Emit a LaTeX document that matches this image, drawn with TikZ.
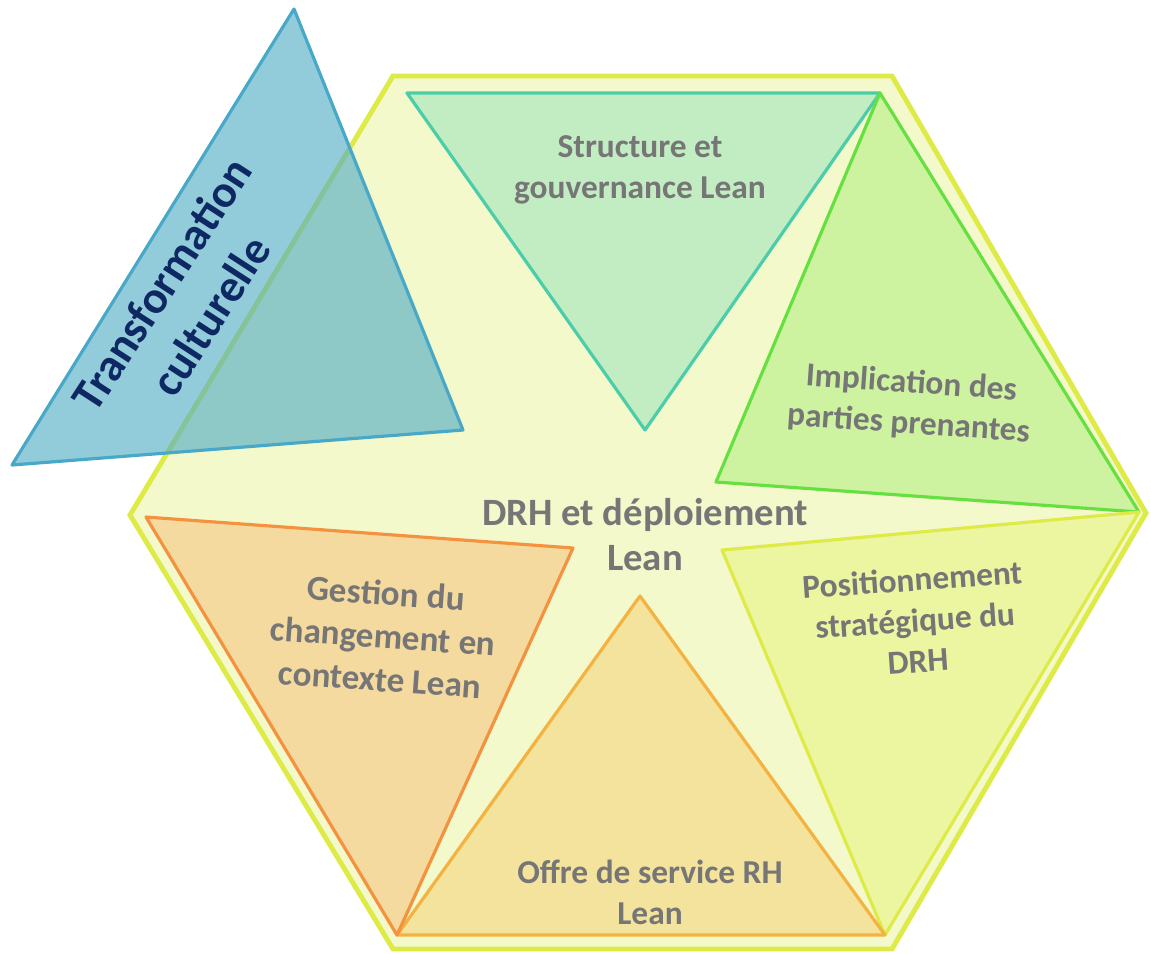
\documentclass[tikz,border=0pt]{standalone}
\usepackage{fontspec}
\setmainfont{Carlito}
\usepackage{xcolor}
\usepackage{tikz}
\usetikzlibrary{positioning,calc}
\definecolor{HexLine}{RGB}{222,235,70}
\definecolor{HexFill}{RGB}{243,249,203}
\definecolor{LabelGray}{RGB}{118,118,118}
\definecolor{NavyText}{RGB}{14,40,99}
\tikzset{
    facet/.style={line width=0.9pt, line join=round},
    facetlabel/.style={text=LabelGray, font=\bfseries\fontsize{9.5}{11.6}\selectfont, align=center, inner sep=0pt}
}

\begin{document}
\begin{tikzpicture}[x=0.01cm, y=-0.01cm,
                hexagon/.style={draw=HexLine, fill=HexFill, line width=1.4pt, line join=miter},
                structure/.style={facet, draw={rgb,255:red,74;green,205;blue,168}, fill={rgb,255:red,194;green,236;blue,194}},
                implication/.style={facet, draw={rgb,255:red,102;green,224;blue,64}, fill={rgb,255:red,205;green,242;blue,160}},
                position/.style={facet, draw=HexLine, fill={rgb,255:red,236;green,245;blue,159}},
                offre/.style={facet, draw={rgb,255:red,244;green,178;blue,64}, fill={rgb,255:red,244;green,227;blue,156}},
                gestion/.style={facet, draw={rgb,255:red,244;green,146;blue,63}, fill={rgb,255:red,244;green,218;blue,159}},
                culture/.style={facet, draw={rgb,255:red,72;green,168;blue,200}, fill={rgb,255:red,88;green,175;blue,197}, fill opacity=0.65}
            ]
                \useasboundingbox (0,0) rectangle (1151,953);
                % Hexagone
                \coordinate (h1) at (393,76);
                \coordinate (h2) at (892,76);
                \coordinate (h3) at (1146,513);
                \coordinate (h4) at (892,949);
                \coordinate (h5) at (393,949);
                \coordinate (h6) at (130,515);
                \draw[hexagon] (h1) -- (h2) -- (h3) -- (h4) -- (h5) -- (h6) -- cycle;
                % Sommets des triangles
                \coordinate (tl) at (407,93);
                \coordinate (tr) at (880,93);
                \coordinate (r) at (1139,512);
                \coordinate (br) at (885,935);
                \coordinate (bl) at (397,935);
                \coordinate (l) at (146,517);
                % Triangles
                \draw[structure] (tl) -- (tr) -- (645,430) coordinate (sApex) -- cycle;
                \draw[implication] (tr) -- (r) -- (716,482) coordinate (iApex) -- cycle;
                \draw[position] (r) -- (br) -- (722,550) coordinate (pApex) -- cycle;
                \draw[offre] (bl) -- (br) -- (640,596) coordinate (oApex) -- cycle;
                \draw[gestion] (l) -- (573,548) coordinate (gApex) -- (bl) -- cycle;
                % Textes
                \node[facetlabel] (structLbl) at (640,170) {Structure et\\gouvernance Lean};
                \node[facetlabel, rotate=-4] (implLbl) at (910,404) {Implication des\\parties prenantes};
                \node[facetlabel, rotate=4] (posLbl) at (915,620) {Positionnement\\stratégique du\\DRH};
                \node[facetlabel] (offreLbl) at (650,892) {Offre de service RH\\Lean};
                \node[facetlabel, rotate=-4, font=\bfseries\fontsize{10}{12.3}\selectfont] (gestLbl) at (383,636) {Gestion du\\changement en\\contexte Lean};
                \node[facetlabel, font=\bfseries\fontsize{11}{12.8}\selectfont] (drhLbl) at (645,535) {DRH et déploiement\\Lean};
                % Transformation culturelle
                \draw[culture] (294,9) coordinate (cTop) -- (463,430) coordinate (cRight) -- (12,465) coordinate (cLeft) -- cycle;
                \node[text=NavyText, font=\bfseries\fontsize{13}{16.5}\selectfont, align=center, rotate=57, inner sep=0pt] (cultLbl) at (186,300) {Transformation\\culturelle};
            \end{tikzpicture}
\end{document}
